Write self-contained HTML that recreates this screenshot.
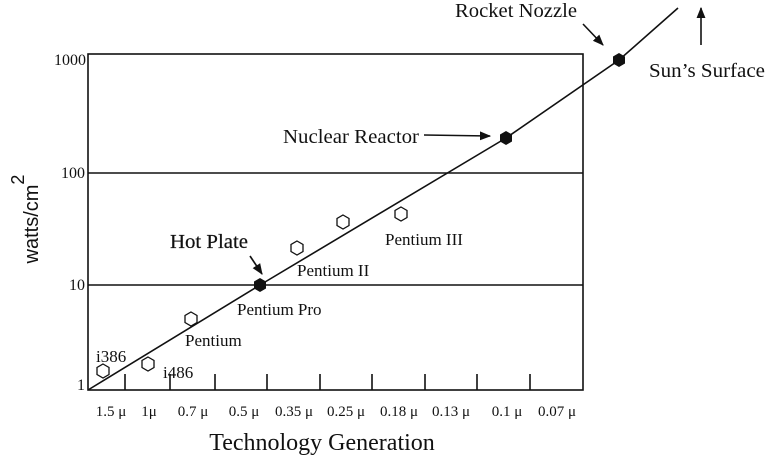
<!DOCTYPE html>
<html><head><meta charset="utf-8"><style>body{margin:0;background:#fff}svg{display:block}text{font-family:"Liberation Serif",serif;fill:#111}</style></head><body>
<svg width="768" height="464" viewBox="0 0 768 464" xmlns="http://www.w3.org/2000/svg">
<defs><marker id="a" viewBox="0 0 10 10" refX="9" refY="5" markerWidth="7" markerHeight="7" orient="auto"><path d="M0,1 L10,5 L0,9 z" fill="#111"/></marker></defs>
<g stroke="#111" stroke-width="1.6" fill="none">
<rect x="88" y="54" width="495" height="336"/>
<line x1="88" y1="173" x2="583" y2="173"/>
<line x1="88" y1="285" x2="583" y2="285"/>
<path d="M125,374V390M170,374V390M215,374V390M267,374V390M320,374V390M372,374V390M425,374V390M477,374V390M530,374V390"/>
<polyline points="88,390 260,285 506,138 619,60 678,8"/>
<line x1="250" y1="256" x2="262" y2="274" marker-end="url(#a)"/>
<line x1="424" y1="135" x2="490" y2="136" marker-end="url(#a)"/>
<line x1="583" y1="24" x2="603" y2="45" marker-end="url(#a)"/>
<line x1="701" y1="45" x2="701" y2="8" marker-end="url(#a)"/>
</g>
<g fill="#fff" stroke="#111" stroke-width="1.3">
<polygon points="103,364 109,367.5 109,374.5 103,378 97,374.5 97,367.5"/>
<polygon points="148,357 154,360.5 154,367.5 148,371 142,367.5 142,360.5"/>
<polygon points="191,312 197,315.5 197,322.5 191,326 185,322.5 185,315.5"/>
<polygon points="297,241 303,244.5 303,251.5 297,255 291,251.5 291,244.5"/>
<polygon points="343,215 349,218.5 349,225.5 343,229 337,225.5 337,218.5"/>
<polygon points="401,207 407,210.5 407,217.5 401,221 395,217.5 395,210.5"/>
</g>
<g fill="#111">
<polygon points="260,278 266,281.5 266,288.5 260,292 254,288.5 254,281.5"/>
<polygon points="506,131 512,134.5 512,141.5 506,145 500,141.5 500,134.5"/>
<polygon points="619,53 625,56.5 625,63.5 619,67 613,63.5 613,56.5"/>
</g>
<g font-size="16" text-anchor="end">
<text x="86" y="65">1000</text><text x="85" y="178">100</text><text x="85" y="290">10</text><text x="85" y="390">1</text>
</g>
<g font-size="15" text-anchor="middle">
<text x="111" y="416">1.5 μ</text><text x="149" y="416">1μ</text><text x="193" y="416">0.7 μ</text><text x="244" y="416">0.5 μ</text><text x="294" y="416">0.35 μ</text><text x="346" y="416">0.25 μ</text><text x="399" y="416">0.18 μ</text><text x="451" y="416">0.13 μ</text><text x="507" y="416">0.1 μ</text><text x="557" y="416">0.07 μ</text>
</g>
<text x="322" y="450" font-size="24" text-anchor="middle">Technology Generation</text>
<text transform="translate(38,219) rotate(-90)" font-size="20" text-anchor="middle" style="font-family:'Liberation Sans',sans-serif">watts/cm<tspan dy="-14" font-size="18">2</tspan></text>
<g font-size="17">
<text x="96" y="362">i386</text><text x="163" y="378">i486</text><text x="185" y="346">Pentium</text>
<text x="237" y="315">Pentium Pro</text><text x="297" y="276">Pentium II</text><text x="385" y="245">Pentium III</text>
</g>
<text x="170" y="248" font-size="20" stroke="#111" stroke-width="0.2" textLength="78" lengthAdjust="spacingAndGlyphs">Hot Plate</text>
<text x="283" y="143" font-size="20" textLength="136" lengthAdjust="spacingAndGlyphs">Nuclear Reactor</text>
<text x="455" y="17" font-size="20" textLength="122" lengthAdjust="spacingAndGlyphs">Rocket Nozzle</text>
<text x="649" y="77" font-size="20" textLength="116" lengthAdjust="spacingAndGlyphs">Sun’s Surface</text>
</svg></body></html>
